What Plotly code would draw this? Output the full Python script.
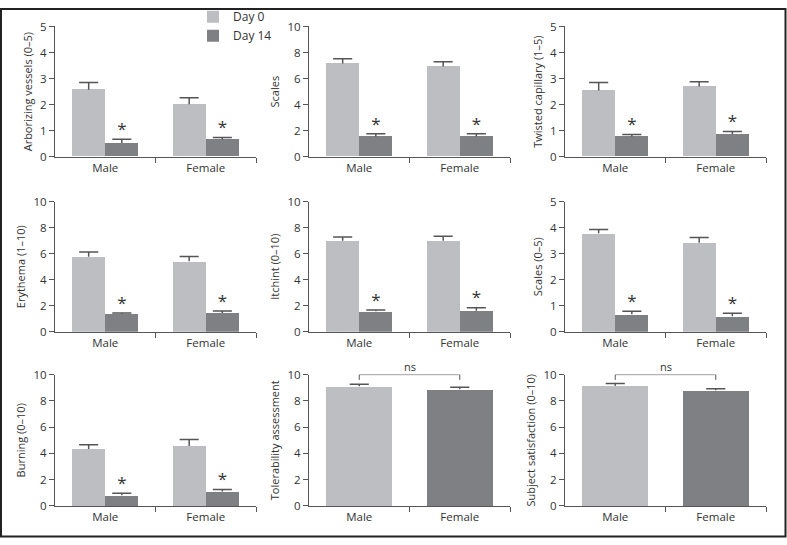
import plotly.graph_objects as go

categories = ["Male", "Female"]
series_names = ["Day 0", "Day 14"]

panel_titles = [
    "Arborizing vessels (0–5)", "Scales", "Twisted capillary (1–5)",
    "Erythema (1–10)", "Itchint (0–10)", "Scales (0–5)",
    "Burning (0–10)", "Tolerability assessment", "Subject satisfaction (0–10)",
]
panel_ymax = [5, 10, 5, 10, 10, 5, 10, 10, 10]

arborizing_day0 = [2.57, 2.02]
arborizing_day0_err = [0.28, 0.25]
arborizing_day14 = [0.53, 0.66]
arborizing_day14_err = [0.14, 0.08]

scales_day0 = [7.15, 6.92]
scales_day0_err = [0.37, 0.37]
scales_day14 = [1.56, 1.56]
scales_day14_err = [0.20, 0.20]

twisted_day0 = [2.54, 2.70]
twisted_day0_err = [0.31, 0.18]
twisted_day14 = [0.78, 0.87]
twisted_day14_err = [0.08, 0.10]

erythema_day0 = [5.76, 5.41]
erythema_day0_err = [0.37, 0.37]
erythema_day14 = [1.37, 1.45]
erythema_day14_err = [0.08, 0.15]

itchint_day0 = [6.98, 6.98]
itchint_day0_err = [0.30, 0.35]
itchint_day14 = [1.57, 1.62]
itchint_day14_err = [0.10, 0.23]

scales05_day0 = [3.78, 3.42]
scales05_day0_err = [0.15, 0.20]
scales05_day14 = [0.67, 0.60]
scales05_day14_err = [0.12, 0.11]

burning_day0 = [4.34, 4.56]
burning_day0_err = [0.32, 0.50]
burning_day14 = [0.82, 1.10]
burning_day14_err = [0.15, 0.15]

tolerability = [9.11, 8.88]
tolerability_err = [0.15, 0.15]

satisfaction = [9.15, 8.80]
satisfaction_err = [0.18, 0.13]

grouped_panels = [
    (arborizing_day0, arborizing_day0_err, arborizing_day14, arborizing_day14_err),
    (scales_day0, scales_day0_err, scales_day14, scales_day14_err),
    (twisted_day0, twisted_day0_err, twisted_day14, twisted_day14_err),
    (erythema_day0, erythema_day0_err, erythema_day14, erythema_day14_err),
    (itchint_day0, itchint_day0_err, itchint_day14, itchint_day14_err),
    (scales05_day0, scales05_day0_err, scales05_day14, scales05_day14_err),
    (burning_day0, burning_day0_err, burning_day14, burning_day14_err),
]
single_panels = [(tolerability, tolerability_err), (satisfaction, satisfaction_err)]

LIGHT = "#bdbec2"
DARK = "#7f8084"
AXIS = "#555555"
TEXT = "#333333"
FONT = "Open Sans"
FS = 11

W, H = 787, 545
col_px = [(55, 256), (309, 510), (565, 766)]
row_px = [(19, 153), (199, 333), (377, 512)]

fig = go.Figure()
layout = dict(
    width=W, height=H, margin=dict(l=0, r=0, t=0, b=0),
    paper_bgcolor="white", plot_bgcolor="white",
    font=dict(family=FONT, size=FS, color=TEXT),
    showlegend=True,
    legend=dict(x=193 / W, y=1 + 6 / H, xanchor="left", yanchor="top",
                bgcolor="rgba(0,0,0,0)", font=dict(size=12, color=TEXT, family=FONT),
                itemwidth=30, tracegroupgap=0),
    annotations=[], shapes=[], bargap=0,
)

xpos = list(range(len(categories)))
bw = 0.33
cap = 0.095  # half cap width in category units


def err_lines(centers, tops, errs, xa, ya):
    # upper-only error bars (stem + cap) drawn as line segments in data units
    xs, ys = [], []
    for xc, t, e in zip(centers, tops, errs):
        xs += [xc, xc, None, xc - cap, xc + cap, None]
        ys += [t, t + e, None, t + e, t + e, None]
    return go.Scatter(x=xs, y=ys, mode="lines", line=dict(color=AXIS, width=1.5),
                      xaxis=xa, yaxis=ya, showlegend=False, cliponaxis=False,
                      hoverinfo="skip", connectgaps=False)


for p in range(9):
    r, c = divmod(p, 3)
    idx = p + 1
    xa = "x" if idx == 1 else f"x{idx}"
    ya = "y" if idx == 1 else f"y{idx}"
    xkey = "xaxis" if idx == 1 else f"xaxis{idx}"
    ykey = "yaxis" if idx == 1 else f"yaxis{idx}"
    x0, x1 = col_px[c]
    yt, yb = row_px[r]
    ymax = panel_ymax[p]
    layout[xkey] = dict(
        domain=[x0 / W, x1 / W], anchor=ya, range=[-0.5, len(categories) - 0.5],
        tickmode="array", tickvals=xpos, ticktext=categories, ticks="",
        showline=True, linecolor=AXIS, linewidth=1, showgrid=False, zeroline=False,
        tickfont=dict(size=FS + 0.5, color=TEXT, family=FONT), fixedrange=True,
        minor=dict(tickmode="array", tickvals=[i + 0.5 for i in xpos], ticks="outside",
                   ticklen=5, tickcolor=AXIS, tickwidth=1, showgrid=False),
    )
    layout[ykey] = dict(
        domain=[1 - yb / H, 1 - yt / H], anchor=xa, range=[0, ymax],
        dtick=ymax / 5, ticks="outside", ticklen=5, tickcolor=AXIS, tickwidth=1,
        showline=True, linecolor=AXIS, linewidth=1, showgrid=False, zeroline=False,
        tickfont=dict(size=FS + 0.5, color=TEXT, family=FONT),
        title=dict(text=panel_titles[p], font=dict(size=FS, color=TEXT, family=FONT), standoff=5),
    )
    if p < 7:
        d0, e0, d14, e14 = grouped_panels[p]
        fig.add_trace(go.Bar(
            x=xpos, y=d0, width=bw, offset=-bw, name=series_names[0],
            marker=dict(color=LIGHT, line=dict(width=0)), xaxis=xa, yaxis=ya,
            showlegend=(p == 0), legendgroup="d0",
        ))
        fig.add_trace(go.Bar(
            x=xpos, y=d14, width=bw, offset=0, name=series_names[1],
            marker=dict(color=DARK, line=dict(width=0)), xaxis=xa, yaxis=ya,
            showlegend=(p == 0), legendgroup="d14",
        ))
        fig.add_trace(err_lines([i - bw / 2 for i in xpos], d0, e0, xa, ya))
        fig.add_trace(err_lines([i + bw / 2 for i in xpos], d14, e14, xa, ya))
        fig.add_trace(go.Scatter(
            x=[i + bw / 2 for i in xpos], y=[v + e for v, e in zip(d14, e14)],
            mode="text", text=["*"] * len(xpos), textposition="top center",
            textfont=dict(size=17, color="#333333", family=FONT),
            xaxis=xa, yaxis=ya, showlegend=False, cliponaxis=False, hoverinfo="skip",
        ))
    else:
        vals, errs = single_panels[p - 7]
        fig.add_trace(go.Bar(
            x=xpos, y=vals, width=2 * bw, offset=-bw,
            marker=dict(color=[LIGHT, DARK], line=dict(width=0)),
            xaxis=xa, yaxis=ya, showlegend=False,
        ))
        fig.add_trace(err_lines(xpos, vals, errs, xa, ya))
        fig.add_trace(go.Scatter(
            x=[xpos[0], xpos[0], xpos[1], xpos[1]],
            y=[ymax * 0.96, ymax, ymax, ymax * 0.96],
            mode="lines", line=dict(color=AXIS, width=1), xaxis=xa, yaxis=ya,
            showlegend=False, cliponaxis=False, hoverinfo="skip",
        ))
        layout["annotations"].append(dict(
            x=(xpos[0] + xpos[1]) / 2, y=ymax, xref=xa, yref=ya, text="ns",
            showarrow=False, yanchor="bottom", yshift=-1,
            font=dict(size=FS, color=TEXT, family=FONT),
        ))

layout["shapes"].append(dict(
    type="rect", xref="paper", yref="paper", x0=1 / W, x1=1 - 1.5 / W, y0=1.5 / H, y1=1 - 1 / H,
    line=dict(color="#222222", width=2), fillcolor="rgba(0,0,0,0)", layer="above",
))
fig.update_layout(**layout)

fig.write_html("out.html", config={"displayModeBar": False},
               post_script="document.body.style.margin='0';document.body.style.overflow='hidden';")
